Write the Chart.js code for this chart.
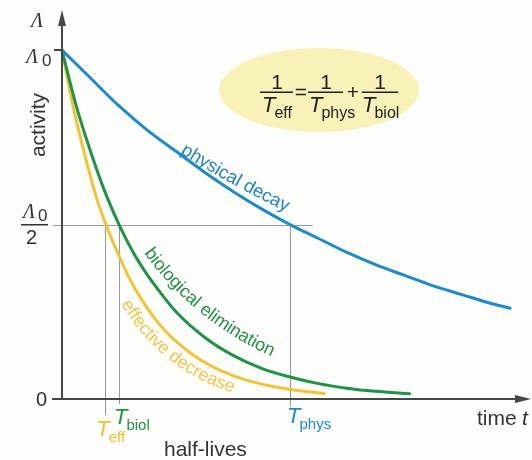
<!DOCTYPE html>
<html lang="en">
<head>
    <meta charset="UTF-8">
    <title>Effective half-life</title>
    <script src="https://cdn.jsdelivr.net/npm/chart.js"></script>
    <style>
        body { margin: 0; background: #fdfdfb; }
        canvas { display: block; }
    </style>
</head>
<body>
    <canvas id="decayChart" width="532" height="460"></canvas>

    <script>
        // values (time in arbitrary units, activity relative to Λ0)
        const physTime = [0, 0.5, 1, 1.5, 2, 2.5, 3, 3.5, 4, 4.5, 5, 5.5, 6, 6.5, 7, 7.5, 7.86];
        const physActivity = [1, 0.92, 0.84, 0.77, 0.71, 0.65, 0.595, 0.545, 0.50, 0.46, 0.42, 0.385, 0.355, 0.325, 0.30, 0.275, 0.26];

        const biolTime = [0, 0.25, 0.5, 0.75, 1, 1.25, 1.5, 1.75, 2, 2.5, 3, 3.5, 4, 4.5, 5, 5.5, 6.1];
        const biolActivity = [1, 0.84, 0.71, 0.595, 0.50, 0.42, 0.355, 0.30, 0.25, 0.177, 0.125, 0.088, 0.063, 0.044, 0.031, 0.022, 0.015];

        const effTime = [0, 0.2, 0.4, 0.6, 0.77, 1.0, 1.2, 1.4, 1.6, 1.8, 2, 2.3, 2.6, 3, 3.4, 3.8, 4.2, 4.6];
        const effActivity = [1, 0.835, 0.70, 0.58, 0.50, 0.41, 0.34, 0.284, 0.237, 0.197, 0.165, 0.126, 0.096, 0.067, 0.047, 0.033, 0.023, 0.016];

        // half-lives marked on the time axis
        const halfLifeNames = ["eff", "biol", "phys"];
        const halfLifeValues = [0.76, 1.0, 4.0];
        const halfLifeColors = ["#f0bf2c", "#1d9445", "#1c8bc8"];

        const BLUE = "#1c8bc8", GREEN = "#1d9445", YELLOW = "#f3c336";
        const AXIS = "#474747", GUIDE = "#9a9a9a";

        function toPoints(xs, ys) {
            return xs.map((x, i) => ({ x: x, y: ys[i] }));
        }

        // place characters one after another, slowly turning the baseline
        function textAlong(ctx, str, x, y, a0, a1) {
            let total = ctx.measureText(str).width;
            let s = 0;
            for (let ch of str) {
                let w = ctx.measureText(ch).width;
                let a = (a0 + (a1 - a0) * (s + w / 2) / total) * Math.PI / 180;
                ctx.save();
                ctx.translate(x, y);
                ctx.rotate(a);
                ctx.fillText(ch, 0, 0);
                ctx.restore();
                x += Math.cos(a) * w;
                y += Math.sin(a) * w;
                s += w;
            }
        }

        function subLabel(ctx, main, sub, x, y, color, size, subSize) {
            ctx.fillStyle = color;
            ctx.textAlign = "left";
            ctx.font = "italic " + size + "px 'Liberation Sans'";
            ctx.fillText(main, x, y);
            let w = ctx.measureText(main).width;
            ctx.font = subSize + "px 'Liberation Sans'";
            ctx.fillText(sub, x + w - 1, y + size * 0.28);
        }

        const decoration = {
            id: "decoration",
            beforeDatasetsDraw(chart) {
                const ctx = chart.ctx;
                const xs = chart.scales.x, ys = chart.scales.y;
                const x0 = xs.getPixelForValue(0), y0 = ys.getPixelForValue(0);
                const yHalf = ys.getPixelForValue(0.5);

                // formula bubble
                ctx.save();
                ctx.fillStyle = "#f9f2b8";
                ctx.beginPath();
                ctx.ellipse(319, 90, 100, 42, 0, 0, Math.PI * 2);
                ctx.fill();

                // half-value guide lines
                ctx.strokeStyle = GUIDE;
                ctx.lineWidth = 1;
                ctx.beginPath();
                ctx.moveTo(x0 - 9, Math.round(yHalf) + 0.5);
                ctx.lineTo(xs.getPixelForValue(4.4), Math.round(yHalf) + 0.5);
                const ends = [y0 + 16, y0 + 5, y0 + 8];
                halfLifeValues.forEach((t, i) => {
                    let px = Math.round(xs.getPixelForValue(t)) + 0.5;
                    ctx.moveTo(px, yHalf);
                    ctx.lineTo(px, ends[i]);
                });
                ctx.stroke();
                ctx.restore();
            },
            afterDatasetsDraw(chart) {
                const ctx = chart.ctx;
                const xs = chart.scales.x, ys = chart.scales.y;
                const x0 = xs.getPixelForValue(0), y0 = ys.getPixelForValue(0);
                const yTop = ys.getPixelForValue(1), yHalf = ys.getPixelForValue(0.5);

                ctx.save();
                // axes with arrows
                ctx.strokeStyle = AXIS;
                ctx.fillStyle = AXIS;
                ctx.lineWidth = 2;
                ctx.beginPath();
                ctx.moveTo(x0, y0);
                ctx.lineTo(x0, 22);
                ctx.moveTo(x0 - 10, y0);
                ctx.lineTo(520, y0);
                ctx.moveTo(x0 - 8, yTop);
                ctx.lineTo(x0, yTop);
                ctx.stroke();
                ctx.beginPath();
                ctx.moveTo(x0, 10); ctx.lineTo(x0 - 4, 26); ctx.lineTo(x0 + 4, 26); ctx.closePath();
                ctx.moveTo(531, y0); ctx.lineTo(515, y0 - 4); ctx.lineTo(515, y0 + 4); ctx.closePath();
                ctx.fill();

                // y-axis labels
                ctx.fillStyle = "#333";
                ctx.textBaseline = "alphabetic";
                ctx.font = "italic 20px 'Liberation Serif'";
                ctx.textAlign = "left";
                ctx.fillText("Λ", 31, 27);
                ctx.fillText("Λ", 26, 63);
                ctx.fillText("Λ", 23, 218);
                ctx.font = "17px 'Liberation Sans'";
                ctx.fillText("0", 42, 66);
                ctx.fillText("0", 38, 221);
                ctx.font = "20px 'Liberation Sans'";
                ctx.fillText("2", 26, 244);
                ctx.fillText("0", 36, y0 + 7);
                ctx.fillRect(21, Math.round(yHalf) - 1, 27, 1.5);

                ctx.save();
                ctx.translate(45, 125);
                ctx.rotate(-Math.PI / 2);
                ctx.textAlign = "center";
                ctx.font = "21px 'Liberation Sans'";
                ctx.fillText("activity", 0, 0);
                ctx.restore();

                // x-axis labels
                ctx.font = "21px 'Liberation Sans'";
                ctx.textAlign = "left";
                ctx.fillText("time", 477, 425);
                ctx.font = "italic 21px 'Liberation Sans'";
                ctx.fillText("t", 522, 425);
                ctx.font = "21px 'Liberation Sans'";
                ctx.fillText("half-lives", 164, 456);

                subLabel(ctx, "T", "eff", xs.getPixelForValue(halfLifeValues[0]) - 9, 436, halfLifeColors[0], 22, 15);
                subLabel(ctx, "T", "biol", xs.getPixelForValue(halfLifeValues[1]) - 5, 424, halfLifeColors[1], 22, 15);
                subLabel(ctx, "T", "phys", xs.getPixelForValue(halfLifeValues[2]) - 3, 423, halfLifeColors[2], 22, 15);

                // curve labels
                ctx.textAlign = "left";
                ctx.font = "18.5px 'Liberation Sans'";
                ctx.fillStyle = "#2383bd";
                textAlong(ctx, "physical decay", 180, 153, 32, 26);
                ctx.font = "18px 'Liberation Sans'";
                ctx.fillStyle = "#248f48";
                textAlong(ctx, "biological elimination", 144, 253, 54, 24);
                ctx.fillStyle = "#f0c550";
                textAlong(ctx, "effective decrease", 121, 304, 60, 17);

                // formula
                ctx.fillStyle = "#222";
                ctx.textAlign = "center";
                ctx.font = "21px 'Liberation Sans'";
                ctx.fillText("1", 277, 89);
                ctx.fillText("1", 326, 89);
                ctx.fillText("1", 380, 89);
                ctx.fillRect(260, 91.5, 33, 1.5);
                ctx.fillRect(308, 91.5, 35, 1.5);
                ctx.fillRect(362, 91.5, 36, 1.5);
                ctx.fillText("=", 301, 99);
                ctx.fillText("+", 353, 99);
                ctx.restore();
                subLabel(ctx, "T", "eff", 262, 112, "#222", 22, 16);
                subLabel(ctx, "T", "phys", 309, 112, "#222", 22, 16);
                subLabel(ctx, "T", "biol", 362, 112, "#222", 22, 16);
            }
        };

        new Chart(document.getElementById("decayChart"), {
            type: "line",
            data: {
                datasets: [
                    { label: "physical decay", data: toPoints(physTime, physActivity), borderColor: BLUE },
                    { label: "biological elimination", data: toPoints(biolTime, biolActivity), borderColor: GREEN },
                    { label: "effective decrease", data: toPoints(effTime, effActivity), borderColor: YELLOW }
                ]
            },
            options: {
                responsive: false,
                devicePixelRatio: 1,
                animation: false,
                layout: { padding: { left: 62, right: 2, top: 18, bottom: 61 } },
                elements: {
                    line: { borderWidth: 3, cubicInterpolationMode: "monotone", borderCapStyle: "round", fill: false },
                    point: { radius: 0 }
                },
                datasets: { line: { clip: false } },
                scales: {
                    x: { type: "linear", min: 0, max: 8.21, display: false },
                    y: { min: 0, max: 1.092, display: false }
                },
                plugins: {
                    legend: { display: false },
                    tooltip: { enabled: false }
                }
            },
            plugins: [decoration]
        });
    </script>
</body>
</html>
